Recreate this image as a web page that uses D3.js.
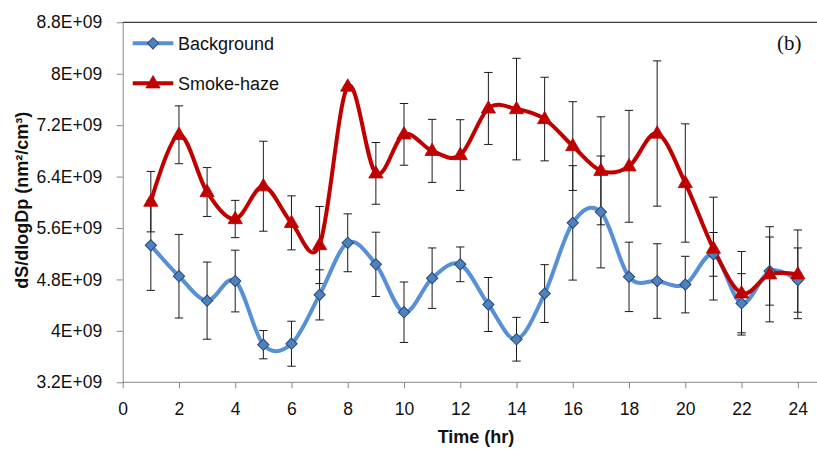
<!DOCTYPE html>
<html>
<head>
<meta charset="utf-8">
<script src="https://cdn.jsdelivr.net/npm/d3@7"></script>
<style>
  html, body { margin: 0; padding: 0; background: #fff; }
  svg { display: block; }
  text { font-family: "Liberation Sans", Arial, sans-serif; }
</style>
</head>
<body>
<svg id="chart" width="817" height="449"></svg>
<script>
// ---------- data ----------
const hours = [1,2,3,4,5,6,7,8,9,10,11,12,13,14,15,16,17,18,19,20,21,22,23,24];
const background = [5.33e9,4.85e9,4.47e9,4.775e9,3.785e9,3.80e9,4.56e9,5.37e9,5.035e9,4.29e9,4.82e9,5.035e9,
                    4.41e9,3.87e9,4.58e9,5.68e9,5.85e9,4.84e9,4.775e9,4.72e9,5.19e9,4.43e9,4.93e9,4.79e9];
const backgroundErr = [0.70e9,0.65e9,0.60e9,0.48e9,0.22e9,0.35e9,0.39e9,0.45e9,0.50e9,0.47e9,0.47e9,0.27e9,
                       0.42e9,0.34e9,0.45e9,0.89e9,0.87e9,0.54e9,0.58e9,0.44e9,0.34e9,0.46e9,0.53e9,0.50e9];
const smokeHaze = [6.01e9,7.05e9,6.16e9,5.74e9,6.25e9,5.68e9,5.335e9,7.80e9,6.45e9,7.057e9,6.80e9,6.735e9,
                   7.46e9,7.45e9,7.295e9,6.875e9,6.49e9,6.56e9,7.07e9,6.30e9,5.28e9,4.585e9,4.88e9,4.88e9];
const smokeHazeErr = [0.47e9,0.45e9,0.38e9,0.29e9,0.70e9,0.42e9,0.60e9,0,0.48e9,0.48e9,0.49e9,0.55e9,
                      0.56e9,0.79e9,0.65e9,0.69e9,0.84e9,0.87e9,1.13e9,0.92e9,0.80e9,0.65e9,0.74e9,0.69e9];
const xTicks = [0,2,4,6,8,10,12,14,16,18,20,22,24];
const yTicks = [3.2e9,4.0e9,4.8e9,5.6e9,6.4e9,7.2e9,8.0e9,8.8e9];
const yTickLabels = ["3.2E+09","4E+09","4.8E+09","5.6E+09","6.4E+09","7.2E+09","8E+09","8.8E+09"];
const seriesNames = ["Background","Smoke-haze"];
const xTitle = "Time (hr)";
const yTitle = "dS/dlogDp (nm\u00B2/cm\u00B3)";
const panelLabel = "(b)";

// ---------- layout ----------
const W = 817, H = 449;
const plotL = 122.7, plotR = 797.8, plotT = 22.3, plotB = 382.3;
const blueLine = "#5790D6", blueFill = "#4F81BD", blueStroke = "#254A78";
const red = "#C00000";
const axisGray = "#878787";

const svg = d3.select("#chart");
const x = d3.scaleLinear().domain([0, 24]).range([plotL, plotR]);
const y = d3.scaleLinear().domain([3.2e9, 8.8e9]).range([plotB, plotT]);

// top border of plot area
svg.append("line").attr("x1", plotL).attr("x2", W).attr("y1", plotT).attr("y2", plotT)
  .attr("stroke", "#3a3a3a").attr("stroke-width", 1.2);

// y axis
const yAxis = svg.append("g").attr("transform", `translate(${plotL},0)`)
  .call(d3.axisLeft(y).tickValues(yTicks).tickSize(6).tickSizeOuter(0)
        .tickFormat((d, i) => yTickLabels[i]));
yAxis.select(".domain").attr("stroke", axisGray);
yAxis.selectAll(".tick line").attr("stroke", axisGray);
yAxis.selectAll(".tick text").attr("x", -20.5).attr("fill", "#111")
  .style("font-size", "17.5px").style("font-family", "'Liberation Sans', Arial, sans-serif");

// x axis
const xAxis = svg.append("g").attr("transform", `translate(0,${plotB})`)
  .call(d3.axisBottom(x).tickValues(xTicks).tickSize(6).tickSizeOuter(0));
xAxis.select(".domain").remove();
xAxis.append("line").attr("x1", plotL).attr("x2", W).attr("stroke", axisGray);
xAxis.selectAll(".tick line").attr("stroke", axisGray);
xAxis.selectAll(".tick text").attr("y", 20).attr("dy", "0.71em").attr("fill", "#111")
  .style("font-size", "17.5px").style("font-family", "'Liberation Sans', Arial, sans-serif");

// axis titles
svg.append("text").attr("x", 476).attr("y", 443).attr("text-anchor", "middle")
  .style("font-weight", "bold").style("font-size", "18px").attr("fill", "#111").text(xTitle);
svg.append("text").attr("transform", `translate(28,${(plotT + plotB) / 2 - 2}) rotate(-90)`)
  .attr("text-anchor", "middle").style("font-weight", "bold").style("font-size", "18px")
  .attr("fill", "#111").text(yTitle);

// panel label
svg.append("text").attr("x", 801.5).attr("y", 50).attr("text-anchor", "end")
  .style("font-family", "'Liberation Serif', 'Times New Roman', serif").style("font-size", "21px")
  .attr("fill", "#111").text(panelLabel);

// ---------- error bars ----------
function errorBars(vals, errs) {
  const g = svg.append("g").attr("stroke", "#1a1a1a").attr("stroke-width", 1);
  hours.forEach((h, i) => {
    const cx = x(h), y1 = y(vals[i] + errs[i]), y2 = y(vals[i] - errs[i]);
    g.append("line").attr("x1", cx).attr("x2", cx).attr("y1", y1).attr("y2", y2);
    g.append("line").attr("x1", cx - 4.2).attr("x2", cx + 4.2).attr("y1", y1).attr("y2", y1);
    g.append("line").attr("x1", cx - 4.2).attr("x2", cx + 4.2).attr("y1", y2).attr("y2", y2);
  });
}
errorBars(background, backgroundErr);
errorBars(smokeHaze, smokeHazeErr);

// ---------- lines ----------
const line = d3.line().x(d => x(d[0])).y(d => y(d[1])).curve(d3.curveCardinal.tension(0));
svg.append("path").datum(hours.map((h, i) => [h, background[i]]))
  .attr("d", line).attr("fill", "none").attr("stroke", blueLine).attr("stroke-width", 4);
svg.append("path").datum(hours.map((h, i) => [h, smokeHaze[i]]))
  .attr("d", line).attr("fill", "none").attr("stroke", red).attr("stroke-width", 4);

// ---------- markers ----------
const diamond = d3.symbol().type(d3.symbolSquare).size(64);
const tri = d3.symbol().type(d3.symbolTriangle).size(88);
svg.append("g").selectAll("path").data(hours).join("path")
  .attr("d", diamond)
  .attr("transform", (h, i) => `translate(${x(h)},${y(background[i])}) rotate(45)`)
  .attr("fill", blueFill).attr("stroke", blueStroke).attr("stroke-width", 1);
svg.append("g").selectAll("path").data(hours).join("path")
  .attr("d", tri)
  .attr("transform", (h, i) => `translate(${x(h)},${y(smokeHaze[i]) + 0.5})`)
  .attr("fill", red).attr("stroke", red).attr("stroke-width", 0.8);

// ---------- legend ----------
const legendY = [43.3, 83.3];
const lg = svg.append("g");
lg.append("line").attr("x1", 132.7).attr("x2", 173.3).attr("y1", legendY[0]).attr("y2", legendY[0])
  .attr("stroke", blueLine).attr("stroke-width", 4);
lg.append("path").attr("d", diamond).attr("transform", `translate(153,${legendY[0]}) rotate(45)`)
  .attr("fill", blueFill).attr("stroke", blueStroke).attr("stroke-width", 1);
lg.append("line").attr("x1", 132.7).attr("x2", 173.3).attr("y1", legendY[1]).attr("y2", legendY[1])
  .attr("stroke", red).attr("stroke-width", 4);
lg.append("path").attr("d", tri).attr("transform", `translate(153,${legendY[1] + 0.5})`)
  .attr("fill", red).attr("stroke", red).attr("stroke-width", 0.8);
seriesNames.forEach((n, i) => {
  lg.append("text").attr("x", 178).attr("y", legendY[i] + 7).style("font-size", "18px")
    .attr("fill", "#111").text(n);
});
</script>
</body>
</html>
